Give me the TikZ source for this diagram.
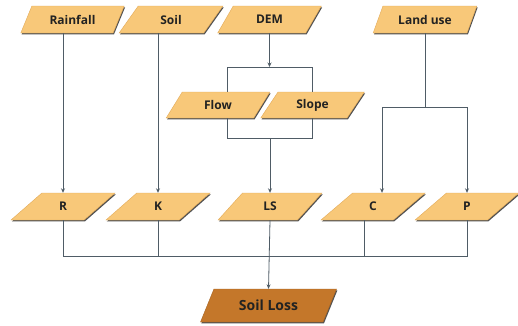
\documentclass[tikz,border=0pt]{standalone}
\usepackage{fontspec}
\setmainfont{Open Sans}
\usetikzlibrary{shapes.geometric,arrows.meta,shadows}
\definecolor{boxfill}{HTML}{F8C879}
\definecolor{boxedge}{HTML}{E3AA58}
\definecolor{lossfill}{HTML}{C4772A}
\definecolor{lineclr}{HTML}{4F5C66}
\definecolor{textclr}{HTML}{222222}
\begin{document}
\begin{tikzpicture}[x=1pt,y=-1pt,
  para/.style={trapezium, trapezium left angle=56, trapezium right angle=124,
    trapezium stretches=true, inner sep=0pt, minimum width=104pt, minimum height=27pt,
    fill=boxfill, draw=boxedge, line width=0.4pt,
    drop shadow={shadow xshift=0.9pt, shadow yshift=-1.3pt, fill=black!75, opacity=0.9},
    font=\bfseries\fontsize{12}{14}\selectfont, text=textclr},
  lossbox/.style={para, minimum width=137pt, minimum height=33pt, fill=lossfill, draw=lossfill!85!black,
    font=\bfseries\fontsize{14}{16}\selectfont},
  conn/.style={draw=lineclr, line width=0.8pt},
  arr/.style={conn, -{Stealth[length=4.5pt,width=4pt]}}]
\useasboundingbox (0,0) rectangle (518,325);
\fill[white] (0,0) rectangle (518,325);
% top row
\node[para] (rain) at (72.5,19.5) {Rainfall};
\node[para] (soil) at (171,19.5) {Soil};
\node[para] (dem) at (269.5,19.5) {DEM};
\node[para] (land) at (425,19.5) {Land use};
% middle row
\node[para, minimum height=26pt] (flow) at (218,105) {Flow};
\node[para, minimum height=26pt] (slope) at (312.5,105) {Slope};
% factor row
\node[para] (R) at (63,206.5) {R};
\node[para] (K) at (158,206.5) {K};
\node[para] (LS) at (270,206.5) {LS};
\node[para] (C) at (373,206.5) {C};
\node[para] (P) at (467,206.5) {P};
% result
\node[lossbox] (loss) at (268.5,305.5) {Soil Loss};
% junction coordinates
\coordinate (b1) at (227,67);
\coordinate (b2) at (312,67);
\coordinate (b3) at (227,138);
\coordinate (b4) at (312,138);
\coordinate (c1) at (382,107);
\coordinate (c2) at (467,107);
\coordinate (cj) at (364,256);
\coordinate (bl) at (63,256);
\coordinate (br) at (467,256);
% connectors
\draw[arr] (rain.south -| R.north) -- (R.north);
\draw[arr] (soil.south -| K.north) -- (K.north);
\draw[arr] (dem.south) -- (dem.south |- b1);
\draw[conn] (flow.north -| b1) -- (b1) -- (b2) -- (slope.north -| b2);
\draw[conn] (flow.south -| b3) -- (b3) -- (b4) -- (slope.south -| b4);
\draw[arr] (LS.north |- b3) -- (LS.north);
\draw[conn] (land.south) -- (land.south |- c1);
\draw[conn] (c1) -- (c2);
\draw[arr] (c1) -- (C.north -| c1);
\draw[arr] (c2) -- (P.north -| c2);
\draw[conn] (R.south -| bl) -- (bl) -- (br) -- (P.south -| br);
\draw[conn] (K.south) -- (K.south |- bl);
\draw[conn] (C.south -| cj) -- (cj);
\draw[arr] (LS.south) -- (loss.north);
\end{tikzpicture}
\end{document}
